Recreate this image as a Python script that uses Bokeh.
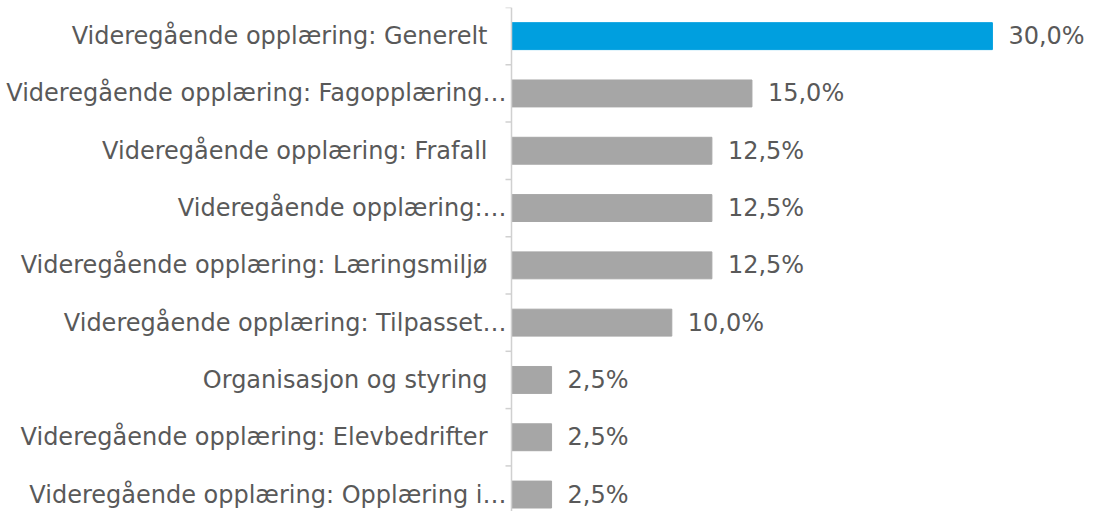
import numpy as np
from bokeh.plotting import figure
from bokeh.models import Range1d, ColumnDataSource, Span
from bokeh.core.properties import value
from bokeh.embed import file_html
from bokeh.resources import INLINE

categories = [
    "Videregående opplæring: Generelt",
    "Videregående opplæring: Fagopplæring…",
    "Videregående opplæring: Frafall",
    "Videregående opplæring:…",
    "Videregående opplæring: Læringsmiljø",
    "Videregående opplæring: Tilpasset…",
    "Organisasjon og styring",
    "Videregående opplæring: Elevbedrifter",
    "Videregående opplæring: Opplæring i…",
]
values = [30.0, 15.0, 12.5, 12.5, 12.5, 10.0, 2.5, 2.5, 2.5]
colors = ["#009FDF"] + ["#A6A6A6"] * 8

FONT = "DejaVu Sans"
TXT = "#595959"
AXC = "#D0D0D0"

pos = list(range(len(categories)))
labels = [f"{v:.1f}".replace(".", ",") + "%" for v in values]
cat_offsets = [-5 if c.endswith("…") else -24 for c in categories]
src = ColumnDataSource(dict(y=pos, v=values, c=colors, lab=labels,
                            cat=categories, zero=[0] * len(pos), xo=cat_offsets))
bounds = [i - 0.5 for i in range(len(categories) + 1)]

W, H = 1090, 511
axis_px = 511          # pixel position of the value axis
px_per_pct = 16.03
row_px = 57.3
top = 7
p = figure(width=W, height=H, output_backend="svg", toolbar_location=None,
           x_range=Range1d(-axis_px / px_per_pct, (W - axis_px) / px_per_pct),
           y_range=Range1d(-0.5 + (H - top) / row_px, -0.5),
           min_border_left=0, min_border_right=0, min_border_top=top,
           min_border_bottom=0)
p.outline_line_color = None
p.grid.visible = False
p.axis.visible = False
p.border_fill_color = "white"

p.hbar(y="y", right="v", left=0, height=0.47, color="c", source=src)
p.text(x="v", y="y", text="lab", source=src, x_offset=16,
       text_baseline="middle", text_align="left",
       text_font=value(FONT), text_font_size="24px", text_color=TXT)
p.text(x="zero", y="y", text="cat", source=src, x_offset="xo",
       text_baseline="middle", text_align="right",
       text_font=value(FONT), text_font_size="24px", text_color=TXT)

p.add_layout(Span(location=0, dimension="height", line_color=AXC, line_width=1.5))
p.ray(x=[0] * len(bounds), y=bounds, length=6, length_units="screen",
      angle=np.pi, line_color=AXC, line_width=1.5)

open("out.html", "w").write(file_html(p, INLINE))
